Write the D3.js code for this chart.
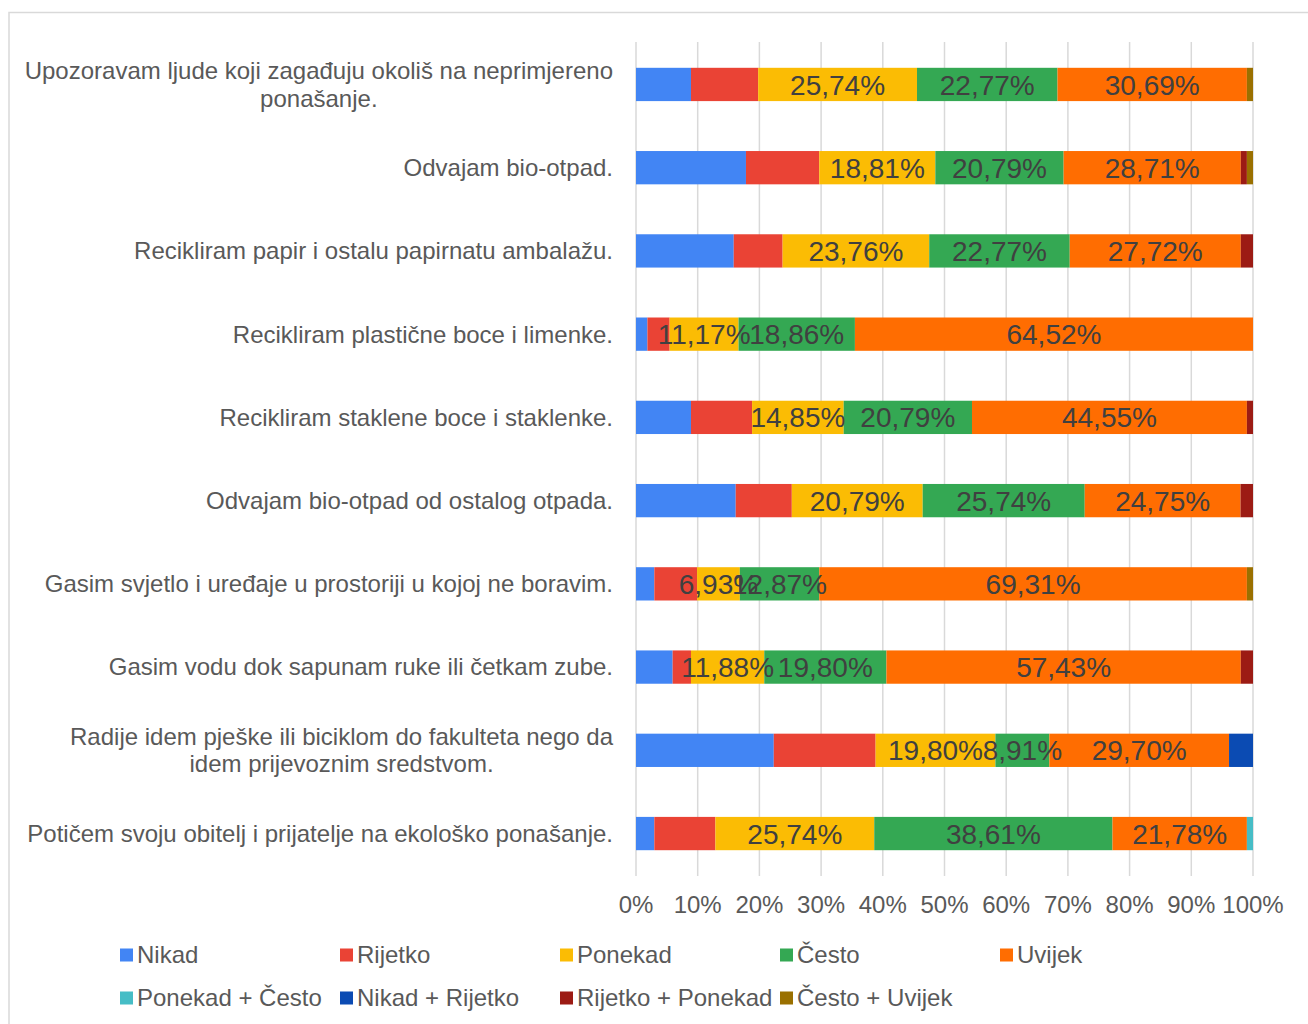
<!DOCTYPE html>
<html>
<head>
<meta charset="utf-8">
<script src="https://cdn.jsdelivr.net/npm/d3@7"></script>
<style>
  body { margin: 0; background: #fff; }
  text { font-family: "Liberation Sans", Arial, sans-serif; }
</style>
</head>
<body>
<svg id="chart"></svg>
<script>
var width = 1308, height = 1024

var categories = [
    "Upozoravam ljude koji zagađuju okoliš na neprimjereno\nponašanje.",
    "Odvajam bio-otpad.",
    "Recikliram papir i ostalu papirnatu ambalažu.",
    "Recikliram plastične boce i limenke.",
    "Recikliram staklene boce i staklenke.",
    "Odvajam bio-otpad od ostalog otpada.",
    "Gasim svjetlo i uređaje u prostoriji u kojoj ne boravim.",
    "Gasim vodu dok sapunam ruke ili četkam zube.",
    "Radije idem pješke ili biciklom do fakulteta nego da\nidem prijevoznim sredstvom.",
    "Potičem svoju obitelj i prijatelje na ekološko ponašanje."
]

var seriesNames = ["Nikad", "Rijetko", "Ponekad", "Često", "Uvijek",
    "Ponekad + Često", "Nikad + Rijetko", "Rijetko + Ponekad", "Često + Uvijek"]
var seriesColors = ["#4285f4", "#ea4335", "#fbbc04", "#34a853", "#ff6d01",
    "#46bdc6", "#0b4bb3", "#9c1b14", "#9a7000"]

// percentages, one value per category
var nikad          = [8.91, 17.82, 15.84, 1.85, 8.91, 15.84, 2.97, 5.94, 22.77, 2.97]
var rijetko        = [10.89, 11.88, 7.92, 3.60, 9.90, 8.91, 6.93, 2.97, 16.83, 9.90]
var ponekad        = [25.74, 18.81, 23.76, 11.17, 14.85, 20.79, 6.93, 11.88, 19.80, 25.74]
var cesto          = [22.77, 20.79, 22.77, 18.86, 20.79, 25.74, 12.87, 19.80, 8.91, 38.61]
var uvijek         = [30.69, 28.71, 27.72, 64.52, 44.55, 24.75, 69.31, 57.43, 29.70, 21.78]
var ponekadCesto   = [0, 0, 0, 0, 0, 0, 0, 0, 0, 0.99]
var nikadRijetko   = [0, 0, 0, 0, 0, 0, 0, 0, 3.96, 0]
var rijetkoPonekad = [0, 0.99, 1.98, 0, 0.99, 1.98, 0, 1.98, 0, 0]
var cestoUvijek    = [0.99, 0.99, 0, 0, 0, 0, 0.99, 0, 0, 0]

var xTicks = [0, 0.1, 0.2, 0.3, 0.4, 0.5, 0.6, 0.7, 0.8, 0.9, 1]
var labelledSeries = ["Ponekad", "Često", "Uvijek"]

var seriesValues = [nikad, rijetko, ponekad, cesto, uvijek,
    ponekadCesto, nikadRijetko, rijetkoPonekad, cestoUvijek]

var rows = categories.map(function(c, i) {
    var r = { category: c }
    seriesNames.forEach(function(s, j) { r[s] = seriesValues[j][i] })
    return r
})

var stack = d3.stack().keys(seriesNames).offset(d3.stackOffsetExpand)
var layers = stack(rows)

var svg = d3.select("#chart").attr("width", width).attr("height", height)

// outer frame
svg.append("rect")
    .attr("x", 9).attr("y", 12.5)
    .attr("width", 1400).attr("height", 1100)
    .attr("fill", "none").attr("stroke", "#d9d9d9").attr("stroke-width", 1.5)

var x = d3.scaleLinear().domain([0, 1]).range([636, 1253])
var y = d3.scaleBand().domain(categories).range([42, 876])
    .paddingInner(0.6).paddingOuter(0.31)

var color = d3.scaleOrdinal().domain(seriesNames).range(seriesColors)
var fmt = function(v) { return d3.format(".2f")(v).replace(".", ",") + "%" }

// gridlines
svg.append("g")
    .selectAll("line")
    .data(xTicks)
    .enter().append("line")
    .attr("x1", function(d) { return x(d) })
    .attr("x2", function(d) { return x(d) })
    .attr("y1", 42).attr("y2", 876)
    .attr("stroke", "#d9d9d9").attr("stroke-width", 1.5)

// bars
svg.append("g")
    .selectAll("g")
    .data(layers)
    .enter().append("g")
    .attr("fill", function(d) { return color(d.key) })
    .selectAll("rect")
    .data(function(d) { return d })
    .enter().append("rect")
    .attr("x", function(d) { return x(d[0]) })
    .attr("width", function(d) { return x(d[1]) - x(d[0]) })
    .attr("y", function(d) { return y(d.data.category) })
    .attr("height", y.bandwidth())

// data labels
var labelLayers = layers.filter(function(l) { return labelledSeries.indexOf(l.key) >= 0 })
labelLayers.forEach(function(l) {
    svg.append("g")
        .selectAll("text")
        .data(l.filter(function(d) { return d.data[l.key] > 0 }))
        .enter().append("text")
        .attr("x", function(d) { return (x(d[0]) + x(d[1])) / 2 })
        .attr("y", function(d) { return y(d.data.category) + y.bandwidth() / 2 })
        .attr("dy", "0.36em")
        .attr("text-anchor", "middle")
        .attr("font-size", 28)
        .attr("fill", "#404040")
        .text(function(d) { return fmt(d.data[l.key]) })
})

// category labels
var catG = svg.append("g")
categories.forEach(function(c) {
    var lines = c.split("\n")
    var g = catG.append("g")
    var lh = 27.5
    var cy = y(c) + y.bandwidth() / 2
    var texts = g.selectAll("text")
        .data(lines)
        .enter().append("text")
        .attr("y", function(d, i) { return cy + (i - (lines.length - 1) / 2) * lh })
        .attr("dy", "0.35em")
        .attr("text-anchor", "middle")
        .attr("font-size", 24)
        .attr("fill", "#595959")
        .text(function(d) { return d })
    var maxW = d3.max(texts.nodes(), function(n) { return n.getComputedTextLength() })
    texts.attr("x", 613 - maxW / 2)
})

// x axis labels
svg.append("g")
    .selectAll("text")
    .data(xTicks)
    .enter().append("text")
    .attr("x", function(d) { return x(d) })
    .attr("y", 905)
    .attr("dy", "0.35em")
    .attr("text-anchor", "middle")
    .attr("font-size", 24)
    .attr("fill", "#595959")
    .text(function(d) { return d3.format(".0%")(d) })

// legend
var legend = svg.append("g")
    .selectAll("g")
    .data(seriesNames)
    .enter().append("g")
    .attr("transform", function(d, i) {
        var col = i < 5 ? i : i - 5
        var row = i < 5 ? 0 : 1
        return "translate(" + (120 + col * 220) + "," + (955 + row * 43) + ")"
    })

legend.append("rect")
    .attr("x", 0).attr("y", -6.5)
    .attr("width", 13).attr("height", 13)
    .attr("fill", function(d) { return color(d) })

legend.append("text")
    .attr("x", 17)
    .attr("dy", "0.35em")
    .attr("font-size", 24)
    .attr("fill", "#595959")
    .text(function(d) { return d })
</script>
</body>
</html>
